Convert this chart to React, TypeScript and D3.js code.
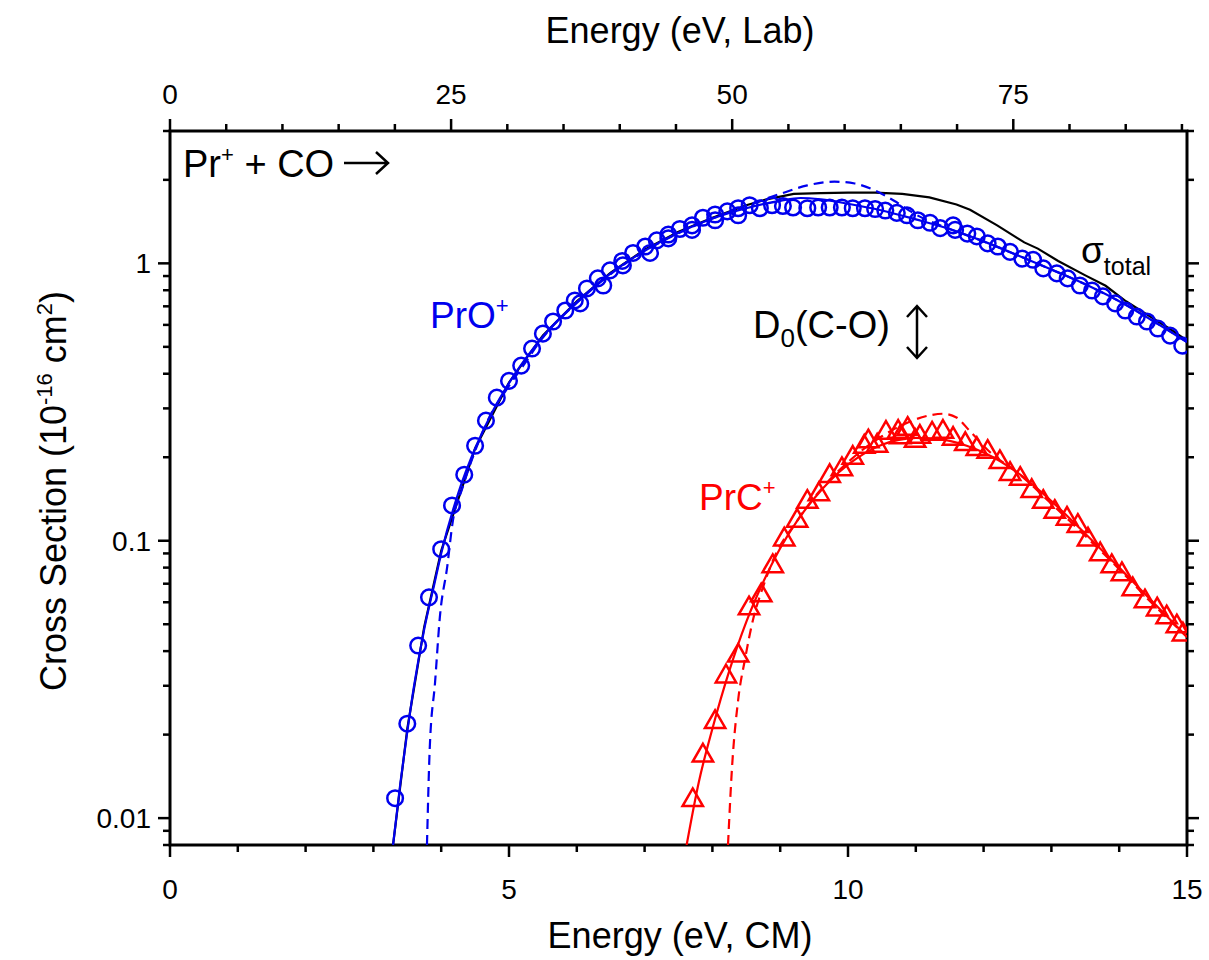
import React from "react";
import * as d3 from "d3";

type Pt = [number, number];

// lab energy = CM energy * (m(Pr) + m(CO)) / m(CO)
const LAB_PER_CM = 6.03;

// PrO+ cross section, [E(CM) eV, sigma 1e-16 cm2]
const proData: Pt[] = [
  [3.32, 0.0118], [3.5, 0.0219], [3.66, 0.0419], [3.82, 0.0625], [4.0, 0.0932], [4.16, 0.134],
  [4.34, 0.173], [4.5, 0.22], [4.66, 0.271], [4.82, 0.328], [5.0, 0.377], [5.18, 0.428],
  [5.34, 0.493], [5.5, 0.558], [5.65, 0.617], [5.83, 0.676], [5.97, 0.735], [6.15, 0.812],
  [6.31, 0.883], [6.49, 0.943], [6.67, 1.02], [6.83, 1.09], [7.01, 1.15], [7.18, 1.21],
  [7.35, 1.27], [7.52, 1.33], [7.7, 1.37], [7.86, 1.46], [8.04, 1.5], [8.22, 1.54],
  [8.38, 1.58], [8.55, 1.62], [8.7, 1.58], [8.88, 1.62], [9.04, 1.61], [9.19, 1.59],
  [9.4, 1.58], [9.56, 1.59], [9.73, 1.59], [9.91, 1.59], [10.07, 1.58], [10.25, 1.58],
  [10.4, 1.57], [10.55, 1.55], [10.72, 1.52], [10.87, 1.49], [11.03, 1.43], [11.21, 1.4],
  [11.36, 1.34], [11.58, 1.32], [11.76, 1.28], [11.9, 1.25], [12.06, 1.18], [12.21, 1.15],
  [12.39, 1.1], [12.57, 1.04], [12.73, 1.03], [12.88, 0.959], [13.08, 0.92], [13.24, 0.883],
  [13.42, 0.832], [13.6, 0.798], [13.76, 0.76], [13.94, 0.717], [14.09, 0.676], [14.26, 0.643],
  [14.41, 0.617], [14.57, 0.582], [14.75, 0.549], [14.93, 0.505],
];
// second PrO+ run (overlapping points)
const proData2: Pt[] = [
  [6.05, 0.717], [6.39, 0.832], [6.68, 0.983], [7.08, 1.09], [7.35, 1.23], [7.7, 1.32],
  [8.04, 1.43], [8.38, 1.49], [11.55, 1.37],
];

// PrC+ cross section
const prcData: Pt[] = [
  [7.71, 0.0116], [7.86, 0.0168], [8.04, 0.0222], [8.2, 0.0324], [8.38, 0.0385], [8.54, 0.057],
  [8.72, 0.0635], [8.89, 0.0809], [9.06, 0.101], [9.25, 0.118], [9.4, 0.138], [9.57, 0.147],
  [9.73, 0.171], [9.91, 0.181], [10.07, 0.199], [10.24, 0.218], [10.43, 0.22], [10.56, 0.245],
  [10.74, 0.247], [10.88, 0.253], [11.06, 0.237], [11.24, 0.243], [11.4, 0.247], [11.55, 0.233],
  [11.73, 0.223], [11.9, 0.214], [12.06, 0.209], [12.24, 0.192], [12.39, 0.174], [12.54, 0.167],
  [12.71, 0.151], [12.88, 0.138], [13.05, 0.127], [13.23, 0.12], [13.39, 0.113], [13.54, 0.101],
  [13.72, 0.0893], [13.89, 0.0809], [14.04, 0.0757], [14.2, 0.0668], [14.38, 0.0604], [14.56, 0.0565],
  [14.7, 0.0529], [14.85, 0.0491], [14.94, 0.0459],
  [10.3, 0.228], [10.77, 0.236], [10.99, 0.229],
];

// total cross section (black line)
const totalData: Pt[] = [
  [3.29, 0.008], [3.5, 0.021], [3.75, 0.049], [4.0, 0.092], [4.5, 0.215], [5.0, 0.372],
  [5.5, 0.55], [6.0, 0.73], [6.5, 0.925], [7.0, 1.12], [7.5, 1.3], [8.0, 1.46], [8.5, 1.62],
  [8.8, 1.7], [9.2, 1.78], [9.6, 1.79], [10.0, 1.8], [10.4, 1.8], [10.8, 1.78], [11.2, 1.73],
  [11.6, 1.63], [11.8, 1.56], [12.2, 1.37], [12.6, 1.19], [12.8, 1.13], [13.1, 1.02],
  [13.5, 0.905], [13.8, 0.83], [14.1, 0.73], [14.5, 0.633], [14.75, 0.58], [15.0, 0.527],
];

// model fits: solid = convoluted, dashed = 0 K
const proFit: Pt[] = [
  [3.29, 0.008], [3.4, 0.0135], [3.5, 0.0205], [3.6, 0.03], [3.75, 0.048], [3.9, 0.07],
  [4.0, 0.09], [4.25, 0.148], [4.5, 0.215], [4.75, 0.29], [5.0, 0.37], [5.25, 0.455],
  [5.5, 0.545], [6.0, 0.725], [6.5, 0.92], [7.0, 1.11], [7.5, 1.29], [8.0, 1.45], [8.5, 1.58],
  [9.0, 1.68], [9.3, 1.72], [9.6, 1.7], [10.0, 1.64], [10.5, 1.55], [11.0, 1.44], [11.5, 1.33],
  [12.0, 1.2], [12.5, 1.07], [13.0, 0.95], [13.5, 0.84], [14.0, 0.73], [14.5, 0.62], [15.0, 0.52],
];
const proFit0: Pt[] = [
  [3.79, 0.008], [3.83, 0.0176], [3.91, 0.031], [3.98, 0.053], [4.09, 0.081], [4.17, 0.117],
  [4.31, 0.154], [4.42, 0.186], [4.57, 0.233], [4.72, 0.282], [4.97, 0.353], [5.21, 0.428],
  [5.5, 0.54], [6.0, 0.72], [6.5, 0.915], [7.0, 1.105], [7.5, 1.285], [8.0, 1.45], [8.5, 1.61],
  [9.0, 1.78], [9.4, 1.91], [9.8, 1.97], [10.1, 1.94], [10.4, 1.83], [10.7, 1.67], [11.0, 1.5],
  [11.5, 1.33], [12.0, 1.2], [12.5, 1.07], [13.0, 0.95], [13.5, 0.84], [14.0, 0.73], [14.5, 0.62],
  [15.0, 0.52],
];
const prcFit: Pt[] = [
  [7.62, 0.008], [7.8, 0.0135], [8.0, 0.021], [8.25, 0.034], [8.5, 0.051], [8.75, 0.071],
  [9.0, 0.094], [9.25, 0.118], [9.5, 0.142], [9.75, 0.166], [10.0, 0.188], [10.25, 0.207],
  [10.5, 0.222], [10.75, 0.231], [11.0, 0.235], [11.25, 0.234], [11.5, 0.229], [11.75, 0.22],
  [12.0, 0.208], [12.5, 0.176], [13.0, 0.139], [13.5, 0.106], [14.0, 0.08], [14.5, 0.06], [15.0, 0.045],
];
const prcFit0: Pt[] = [
  [8.23, 0.008], [8.29, 0.0153], [8.38, 0.0267], [8.48, 0.0373], [8.6, 0.052], [8.75, 0.0685],
  [8.92, 0.0879], [9.25, 0.118], [9.5, 0.143], [10.0, 0.192], [10.5, 0.238], [10.9, 0.268],
  [11.2, 0.283], [11.4, 0.287], [11.6, 0.278], [11.8, 0.248], [12.1, 0.208], [12.5, 0.176],
  [13.0, 0.136], [13.5, 0.104], [14.0, 0.079], [14.5, 0.059], [15.0, 0.045],
];

const xTicksCM = [0, 5, 10, 15];
const xTicksLab = [0, 25, 50, 75];
const yTicks = [0.01, 0.1, 1];
const yTickLabels = ["0.01", "0.1", "1"];

const BLUE = "#0000ee";
const RED = "#ff0000";
const FONT = "'Liberation Sans', Arial, sans-serif";

export default function App() {
  const W = 1209, H = 960;
  const L = 170, R = 1187, T = 131, B = 845;

  const x = d3.scaleLinear().domain([0, 15]).range([L, R]);
  const xLab = d3.scaleLinear().domain([0, 15 * LAB_PER_CM]).range([L, R]);
  const y = d3.scaleLog().domain([0.008, 3]).range([B, T]);

  const smooth = d3.line<Pt>().x(d => x(d[0])).y(d => y(d[1])).curve(d3.curveMonotoneX);
  const raw = d3.line<Pt>().x(d => x(d[0])).y(d => y(d[1]));
  const tri = d3.symbol().type(d3.symbolTriangle).size(180)() || "";

  const xMinor = d3.range(0, 15.001, 1);
  const labMinor = d3.range(0, 15 * LAB_PER_CM, 5);
  const yMinor: number[] = [];
  [0.001, 0.01, 0.1, 1].forEach(dec => {
    for (let m = 2; m <= 9; m++) {
      const v = m * dec;
      if (v >= 0.008 - 1e-9 && v <= 3 + 1e-9) yMinor.push(v);
    }
  });

  const major = 12, minor = 7;
  const ax = { stroke: "#000", strokeWidth: 2.5 };

  return (
    <div style={{ position: "absolute", left: 0, top: 0 }}>
      <svg width={W} height={H} style={{ display: "block", background: "#fff" }} fontFamily={FONT}>
        <defs>
          <clipPath id="plot">
            <rect x={L} y={T} width={R - L} height={B - T} />
          </clipPath>
        </defs>

        {/* bottom axis ticks */}
        {xMinor.map(v => (
          <line key={"bm" + v} x1={x(v)} x2={x(v)} y1={B} y2={B + (v % 5 === 0 ? major : minor)} {...ax} />
        ))}
        {xTicksCM.map(v => (
          <text key={"bl" + v} x={x(v)} y={899} fontSize={28} textAnchor="middle">{v}</text>
        ))}
        {/* top axis ticks (lab) */}
        {labMinor.map(v => (
          <line key={"tm" + v} x1={xLab(v)} x2={xLab(v)} y1={T} y2={T - (v % 25 === 0 ? major : minor)} {...ax} />
        ))}
        {xTicksLab.map(v => (
          <text key={"tl" + v} x={xLab(v)} y={104} fontSize={28} textAnchor="middle">{v}</text>
        ))}
        {/* left / right ticks */}
        {yMinor.map(v => (
          <g key={"ym" + v}>
            <line x1={L} x2={L - minor} y1={y(v)} y2={y(v)} {...ax} />
            <line x1={R} x2={R + minor} y1={y(v)} y2={y(v)} {...ax} />
          </g>
        ))}
        {yTicks.map((v, i) => (
          <g key={"yt" + v}>
            <line x1={L} x2={L - major} y1={y(v)} y2={y(v)} {...ax} />
            <line x1={R} x2={R + major} y1={y(v)} y2={y(v)} {...ax} />
            <text x={151} y={y(v)} dy="0.36em" fontSize={28} textAnchor="end">{yTickLabels[i]}</text>
          </g>
        ))}

        {/* frame */}
        <rect x={L} y={T} width={R - L} height={B - T} fill="none" stroke="#000" strokeWidth={3} />

        {/* axis titles */}
        <text x={680} y={43} fontSize={36} textAnchor="middle">Energy (eV, Lab)</text>
        <text x={680} y={948} fontSize={36} textAnchor="middle">Energy (eV, CM)</text>
        <text transform="translate(66,491) rotate(-90)" fontSize={36} textAnchor="middle">
          Cross Section (10<tspan fontSize={22} dy={-14}>-16</tspan>
          <tspan dy={14}> cm</tspan>
          <tspan fontSize={22} dy={-14}>2</tspan>
          <tspan dy={14}>)</tspan>
        </text>

        <g clipPath="url(#plot)" fill="none">
          <path d={raw(totalData) || ""} stroke="#000" strokeWidth={2.2} />
          <path d={smooth(proFit0) || ""} stroke={BLUE} strokeWidth={2.2} strokeDasharray="10,6" />
          <path d={smooth(proFit) || ""} stroke={BLUE} strokeWidth={2.2} />
          <path d={smooth(prcFit0) || ""} stroke={RED} strokeWidth={2.2} strokeDasharray="10,6" />
          <path d={smooth(prcFit) || ""} stroke={RED} strokeWidth={2.2} />
          {proData.concat(proData2).map((d, i) => (
            <circle key={"c" + i} cx={x(d[0])} cy={y(d[1])} r={7.8} stroke={BLUE} strokeWidth={2.5} />
          ))}
          {prcData.map((d, i) => (
            <path key={"t" + i} d={tri} transform={`translate(${x(d[0])},${y(d[1])})`} stroke={RED} strokeWidth={2.5} />
          ))}
        </g>

        {/* annotations */}
        <text x={183} y={177} fontSize={38}>
          Pr<tspan fontSize={22} dy={-15}>+</tspan>
          <tspan dy={15}> + CO</tspan>
        </text>
        <path d="M344,163 H387 M376,152 L388,163 L376,174" fill="none" stroke="#000" strokeWidth={2.5} />

        <text x={430} y={328} fontSize={37} fill={BLUE}>
          PrO<tspan fontSize={22} dy={-15}>+</tspan>
        </text>
        <text x={699} y={510} fontSize={37} fill={RED}>
          PrC<tspan fontSize={22} dy={-15}>+</tspan>
        </text>

        <text x={753} y={338} fontSize={38}>
          D<tspan fontSize={26} dy={9}>0</tspan>
          <tspan dy={-9}>(C-O)</tspan>
        </text>
        <path d="M917,307 V357 M907,317 L917,306 L927,317 M907,347 L917,358 L927,347" fill="none" stroke="#000" strokeWidth={2.5} />

        <text x={1081} y={263} fontSize={37}>
          σ<tspan fontSize={25} dy={12}>total</tspan>
        </text>
      </svg>
    </div>
  );
}
